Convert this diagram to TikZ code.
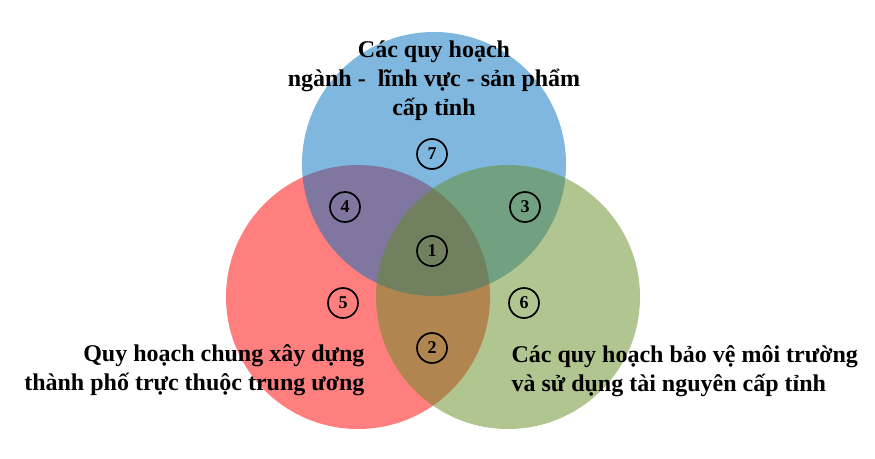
\documentclass[tikz,border=0pt]{standalone}
\usepackage{fontspec}
\setmainfont{Liberation Serif}
\definecolor{planblue}{RGB}{0,112,192}
\definecolor{plangreen}{RGB}{100,140,35}

\begin{document}
\begin{tikzpicture}[x=1pt, y=-1pt,
                    every node/.style={font=\bfseries\fontsize{24}{29}\selectfont},
                    plan set/.style={circle, draw=none, fill opacity=0.5,
                                     minimum size=264pt, inner sep=0pt},
                    region/.style={circle, draw, line width=1.7pt, minimum size=30pt,
                                   inner sep=0pt, font=\bfseries\fontsize{18}{20}\selectfont}]

  \useasboundingbox (0,0) rectangle (875,458);

  % Three overlapping plan sets
  \node [plan set, fill=red] (urban set) at (358,297) {};
  \node [plan set, fill=planblue] (sector set) at (434,164) {};
  \node [plan set, fill=plangreen] (resource set) at (508,297) {};

  % Numbered regions
  \foreach \num/\x/\y in {7/432/154, 4/345/207, 3/525/207, 1/432/251,
                          5/343/303, 6/524/303, 2/432/348} {
    \node [region] (region \num) at (\x,\y) {\num};
  }

  % Set labels
  \node [align=center] (sector label) at (434,81)
        {Các quy hoạch\\ngành -\ \ lĩnh vực - sản phẩm\\cấp tỉnh};
  \node [align=right, anchor=east] (urban label) at (368,370)
        {Quy hoạch chung xây dựng\\thành phố trực thuộc trung ương};
  \node [align=left, anchor=west] (resource label) at (508,371)
        {Các quy hoạch bảo vệ môi trường\\và sử dụng tài nguyên cấp tỉnh};

\end{tikzpicture}
\end{document}
